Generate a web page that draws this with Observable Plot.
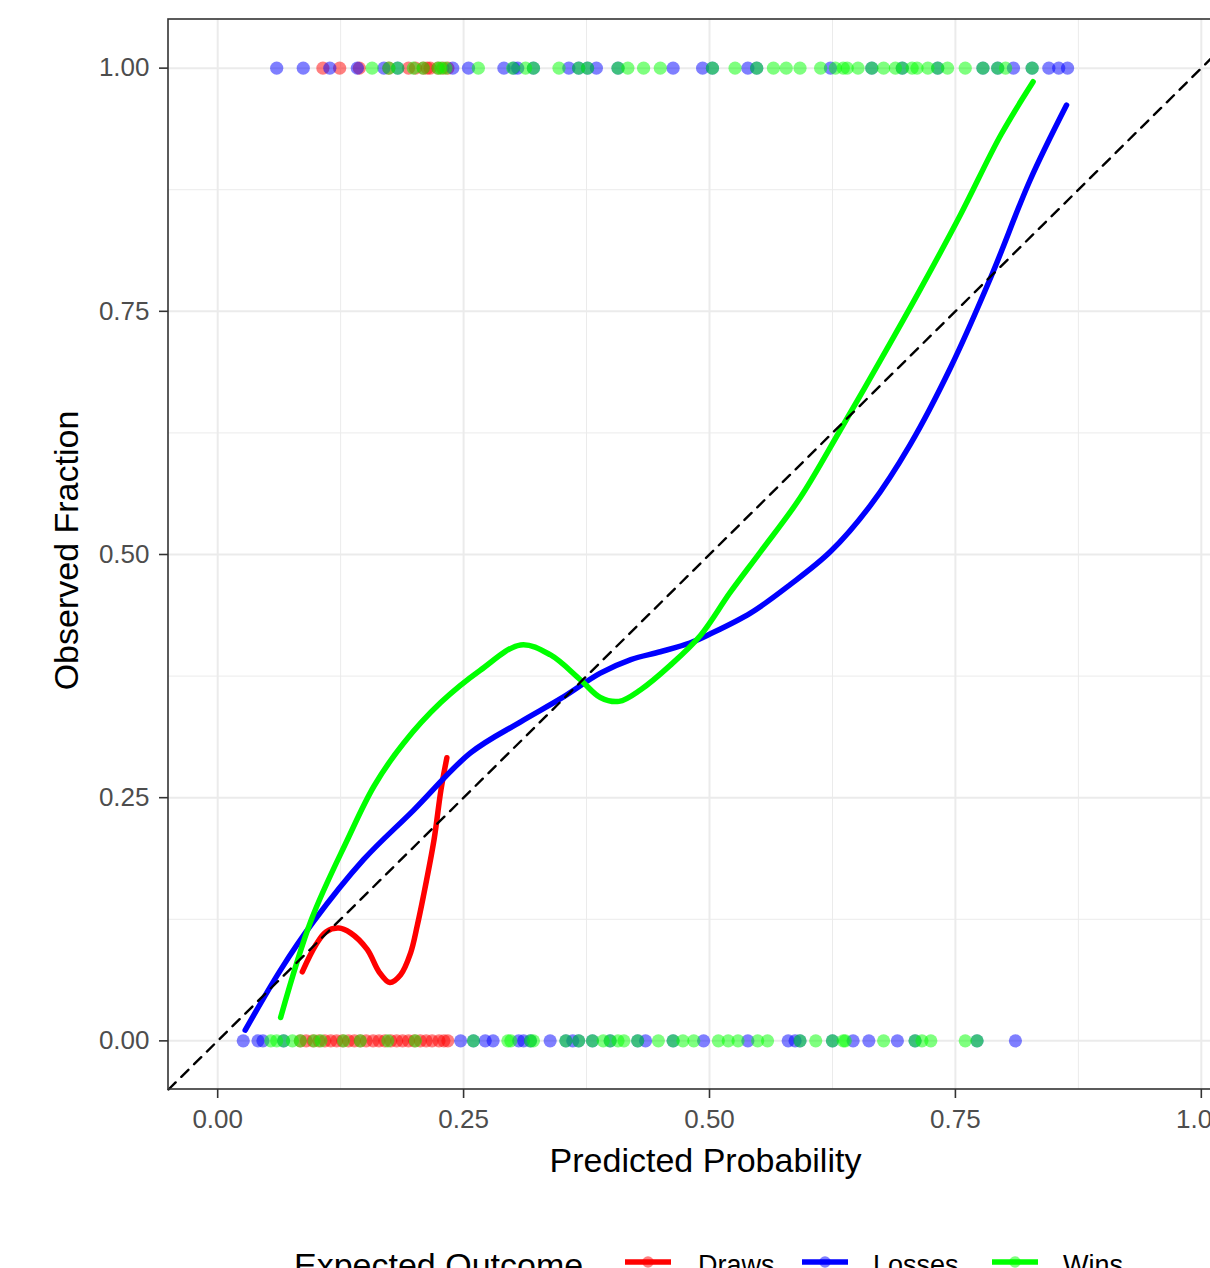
<!DOCTYPE html>
<html><head><meta charset="utf-8">
<script src="https://cdn.jsdelivr.net/npm/d3@7"></script>
<script src="https://cdn.jsdelivr.net/npm/@observablehq/plot@0.6"></script>
<style>
html,body{margin:0;padding:0;background:#fff;overflow:hidden;width:1210px;height:1268px;}
#chart svg{overflow:hidden;display:block;}
#legend{position:relative;height:60px;font-family:"Liberation Sans",Arial,sans-serif;color:#000;}
.lg{position:absolute;line-height:40px;white-space:nowrap;}
.key{position:absolute;}
</style></head><body>
<div id="chart"></div><div id="legend"></div>
<script>
// ---- data ----
const outcomes = ["Draws", "Losses", "Wins"];
const colors = ["#FF0000", "#0000FF", "#00FF00"];
const ticks = [0, 0.25, 0.5, 0.75, 1];
const minorTicks = [0.125, 0.375, 0.625, 0.875];
const tickLabels = ["0.00", "0.25", "0.50", "0.75", "1.00"];

// observed outcome = 1 (top row) / 0 (bottom row), predicted probabilities
const drawsTop = [0.107, 0.124, 0.144, 0.174, 0.194, 0.201, 0.209, 0.213, 0.216, 0.224, 0.229, 0.234];
const drawsBottom = [0.084, 0.090, 0.097, 0.103, 0.109, 0.115, 0.121, 0.127, 0.133, 0.139, 0.145, 0.151, 0.158,
  0.164, 0.170, 0.176, 0.182, 0.188, 0.194, 0.200, 0.206, 0.212, 0.218, 0.225, 0.230, 0.234];
const lossesTop = [0.060, 0.087, 0.114, 0.142, 0.169, 0.183, 0.239, 0.255, 0.291, 0.301, 0.305, 0.321, 0.357, 0.367,
  0.376, 0.385, 0.407, 0.463, 0.493, 0.503, 0.539, 0.548, 0.623, 0.665, 0.696, 0.732, 0.778, 0.793, 0.809, 0.828,
  0.845, 0.855, 0.864];
const lossesBottom = [0.026, 0.041, 0.046, 0.067, 0.247, 0.260, 0.272, 0.280, 0.306, 0.311, 0.318, 0.338, 0.354,
  0.361, 0.367, 0.381, 0.399, 0.427, 0.435, 0.463, 0.494, 0.539, 0.580, 0.587, 0.592, 0.625, 0.646, 0.662, 0.691,
  0.709, 0.772, 0.811];
const winsTop = [0.157, 0.174, 0.183, 0.199, 0.209, 0.224, 0.227, 0.232, 0.265, 0.300, 0.313, 0.321, 0.347, 0.367,
  0.376, 0.407, 0.417, 0.433, 0.450, 0.503, 0.526, 0.548, 0.565, 0.578, 0.592, 0.613, 0.628, 0.636, 0.640, 0.651,
  0.665, 0.677, 0.689, 0.696, 0.706, 0.711, 0.722, 0.732, 0.742, 0.760, 0.778, 0.793, 0.801, 0.828];
const winsBottom = [0.054, 0.060, 0.067, 0.076, 0.084, 0.098, 0.105, 0.128, 0.145, 0.173, 0.201, 0.260, 0.295, 0.298,
  0.318, 0.321, 0.354, 0.367, 0.381, 0.392, 0.399, 0.407, 0.413, 0.427, 0.448, 0.463, 0.473, 0.484, 0.509, 0.519,
  0.529, 0.549, 0.559, 0.592, 0.608, 0.625, 0.636, 0.638, 0.677, 0.709, 0.716, 0.725, 0.760, 0.772];

// smoothed calibration curves (predicted, observed fraction)
const drawsCurveX = [0.086, 0.100, 0.110, 0.123, 0.135, 0.152, 0.164, 0.175, 0.186, 0.196, 0.203, 0.209, 0.220, 0.227, 0.233];
const drawsCurveY = [0.071, 0.099, 0.112, 0.116, 0.111, 0.094, 0.071, 0.060, 0.068, 0.090, 0.119, 0.148, 0.207, 0.258, 0.291];
const lossesCurveX = [0.028, 0.064, 0.097, 0.148, 0.199, 0.257, 0.308, 0.349, 0.389, 0.420, 0.450, 0.480, 0.500,
  0.542, 0.582, 0.623, 0.664, 0.704, 0.745, 0.786, 0.826, 0.863];
const lossesCurveY = [0.011, 0.073, 0.122, 0.186, 0.237, 0.296, 0.328, 0.352, 0.378, 0.392, 0.400, 0.409, 0.418,
  0.440, 0.469, 0.503, 0.551, 0.613, 0.692, 0.785, 0.885, 0.962];
const winsCurveX = [0.064, 0.095, 0.132, 0.159, 0.189, 0.227, 0.267, 0.308, 0.338, 0.369, 0.389, 0.408, 0.430, 0.460,
  0.491, 0.521, 0.552, 0.592, 0.633, 0.674, 0.714, 0.755, 0.796, 0.829];
const winsCurveY = [0.024, 0.124, 0.207, 0.262, 0.306, 0.348, 0.381, 0.407, 0.397, 0.371, 0.353, 0.349, 0.361, 0.386,
  0.417, 0.461, 0.503, 0.558, 0.628, 0.700, 0.772, 0.849, 0.931, 0.986];

const diag = [-0.05, 1.05];

// ---- build tables ----
const points = [];
const addPts = (arr, obs, outcome) => arr.forEach(p => points.push({p, obs, outcome}));
addPts(drawsTop, 1, "Draws"); addPts(drawsBottom, 0, "Draws");
addPts(lossesTop, 1, "Losses"); addPts(lossesBottom, 0, "Losses");
addPts(winsTop, 1, "Wins"); addPts(winsBottom, 0, "Wins");

const curves = [];
const addCurve = (xs, ys, outcome) => xs.forEach((p, i) => curves.push({p, f: ys[i], outcome}));
addCurve(drawsCurveX, drawsCurveY, "Draws");
addCurve(lossesCurveX, lossesCurveY, "Losses");
addCurve(winsCurveX, winsCurveY, "Wins");

const D0 = -0.05, D1 = 1.05;
const H = 1242;
const font = "'Liberation Sans', Arial, Helvetica, sans-serif";
const fmt = d => tickLabels[ticks.indexOf(d)];

const chart = Plot.plot({
  width: 1210, height: H,
  marginLeft: 168, marginTop: 19, marginRight: 0, marginBottom: H - 1089,
  x: {domain: [D0, D1], range: [168, 1250]},
  y: {domain: [D0, D1], range: [1089, 19]},
  color: {domain: outcomes, range: colors},
  style: {fontFamily: font, background: "white", overflow: "hidden"},
  marks: [
    Plot.ruleX(minorTicks, {y1: D0, y2: D1, stroke: "#EBEBEB", strokeWidth: 1}),
    Plot.ruleY(minorTicks, {x1: D0, x2: D1, stroke: "#EBEBEB", strokeWidth: 1}),
    Plot.ruleX(ticks, {y1: D0, y2: D1, stroke: "#EBEBEB", strokeWidth: 2}),
    Plot.ruleY(ticks, {x1: D0, x2: D1, stroke: "#EBEBEB", strokeWidth: 2}),
    Plot.dot(points, {x: "p", y: "obs", fill: "outcome", r: 6.6, fillOpacity: 0.5}),
    Plot.line(curves, {x: "p", y: "f", z: "outcome", stroke: "outcome", strokeWidth: 5.5, curve: "catmull-rom"}),
    Plot.line(diag, {x: d => d, y: d => d, stroke: "black", strokeWidth: 2.4, strokeDasharray: "10,8"}),
    Plot.rect([0], {x1: D0, x2: D1, y1: D0, y2: D1, fill: "none", stroke: "#333333", strokeWidth: 1.6}),
    Plot.axisX(ticks, {anchor: "bottom", tickSize: 9, tickPadding: 11, fontSize: 26, tickFormat: fmt,
      stroke: "#333333", strokeWidth: 1.6, fill: "#4D4D4D", label: null}),
    Plot.axisY(ticks, {anchor: "left", tickSize: 9, tickPadding: 10, fontSize: 26, tickFormat: fmt,
      stroke: "#333333", strokeWidth: 1.6, fill: "#4D4D4D", label: null}),
    Plot.text(["Predicted Probability"], {x: 0.5, frameAnchor: "bottom", textAnchor: "middle", dx: -4, dy: 82, fontSize: 34, fill: "black"}),
    Plot.text(["Observed Fraction"], {y: 0.5, frameAnchor: "left", textAnchor: "middle", dx: -101, dy: -4, rotate: -90, fontSize: 34, fill: "black"})
  ]
});
document.getElementById("chart").appendChild(chart);

// ---- legend ----
const lg = document.getElementById("legend");
const title = document.createElement("div");
title.className = "lg"; title.textContent = "Expected Outcome";
title.style.cssText = "left:294px;top:3px;font-size:34px;";
lg.appendChild(title);
const keyLeft = [625, 802, 992];
const labelLeft = [698, 873, 1063];
outcomes.forEach((o, i) => {
  const k = document.createElementNS("http://www.w3.org/2000/svg", "svg");
  k.setAttribute("width", 48); k.setAttribute("height", 16);
  k.setAttribute("class", "key");
  k.style.left = keyLeft[i] + "px"; k.style.top = "12px";
  k.innerHTML = `<line x1="0" y1="8" x2="46" y2="8" stroke="${colors[i]}" stroke-width="5.5"/>` +
    `<circle cx="23" cy="8" r="5.8" fill="${colors[i]}" fill-opacity="0.5"/>`;
  lg.appendChild(k);
  const t = document.createElement("div");
  t.className = "lg"; t.textContent = o;
  t.style.cssText = `left:${labelLeft[i]}px;top:3px;font-size:27px;`;
  lg.appendChild(t);
});
</script>
</body></html>
